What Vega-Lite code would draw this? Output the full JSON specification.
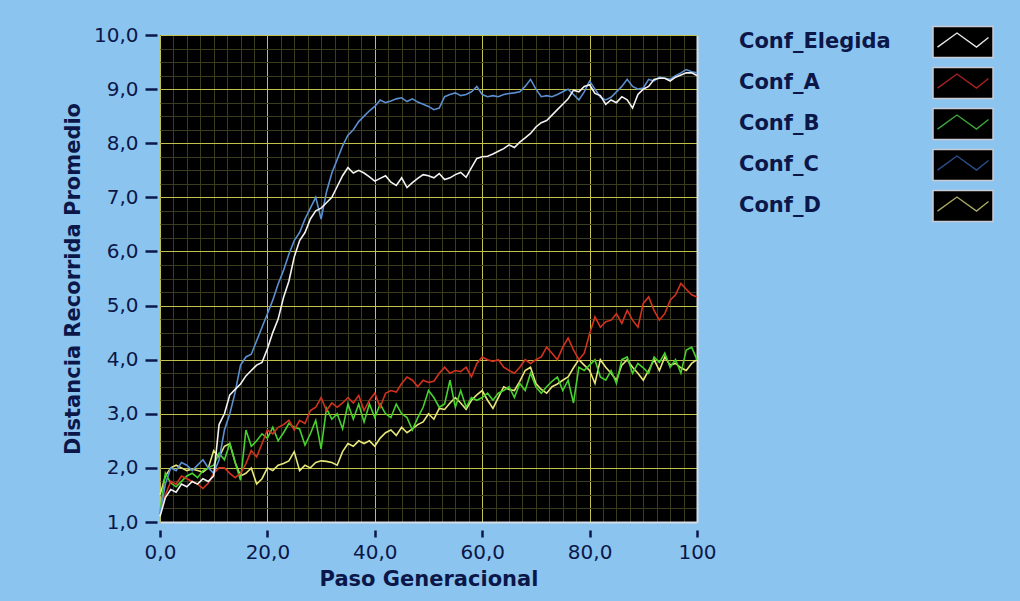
{
"$schema": "https://vega.github.io/schema/vega-lite/v6.json",
"background": "#8cc4f0",
"padding": {"left": 62, "top": 23, "right": 30, "bottom": 16},
"config": {"view": {"stroke": null}, "font": "DejaVu Sans", "concat": {"spacing": 22}},
"datasets": {
"series": [
{"paso":0,"serie":"Conf_D","valor":1.5},{"paso":1,"serie":"Conf_D","valor":1.85},{"paso":2,"serie":"Conf_D","valor":2.0},{"paso":3,"serie":"Conf_D","valor":2.05},{"paso":4,"serie":"Conf_D","valor":2.0},{"paso":5,"serie":"Conf_D","valor":1.95},{"paso":6,"serie":"Conf_D","valor":1.98},{"paso":7,"serie":"Conf_D","valor":1.95},{"paso":8,"serie":"Conf_D","valor":1.92},{"paso":9,"serie":"Conf_D","valor":2.0},
{"paso":10,"serie":"Conf_D","valor":2.32},{"paso":11,"serie":"Conf_D","valor":2.2},{"paso":12,"serie":"Conf_D","valor":2.4},{"paso":13,"serie":"Conf_D","valor":2.45},{"paso":14,"serie":"Conf_D","valor":2.1},{"paso":15,"serie":"Conf_D","valor":1.85},{"paso":16,"serie":"Conf_D","valor":1.9},{"paso":17,"serie":"Conf_D","valor":2.0},{"paso":18,"serie":"Conf_D","valor":1.7},{"paso":19,"serie":"Conf_D","valor":1.8},
{"paso":20,"serie":"Conf_D","valor":2.0},{"paso":21,"serie":"Conf_D","valor":1.95},{"paso":22,"serie":"Conf_D","valor":2.05},{"paso":23,"serie":"Conf_D","valor":2.08},{"paso":24,"serie":"Conf_D","valor":2.13},{"paso":25,"serie":"Conf_D","valor":2.3},{"paso":26,"serie":"Conf_D","valor":1.95},{"paso":27,"serie":"Conf_D","valor":2.05},{"paso":28,"serie":"Conf_D","valor":2.0},{"paso":29,"serie":"Conf_D","valor":2.1},
{"paso":30,"serie":"Conf_D","valor":2.13},{"paso":31,"serie":"Conf_D","valor":2.12},{"paso":32,"serie":"Conf_D","valor":2.1},{"paso":33,"serie":"Conf_D","valor":2.05},{"paso":34,"serie":"Conf_D","valor":2.3},{"paso":35,"serie":"Conf_D","valor":2.45},{"paso":36,"serie":"Conf_D","valor":2.4},{"paso":37,"serie":"Conf_D","valor":2.5},{"paso":38,"serie":"Conf_D","valor":2.45},{"paso":39,"serie":"Conf_D","valor":2.5},
{"paso":40,"serie":"Conf_D","valor":2.4},{"paso":41,"serie":"Conf_D","valor":2.55},{"paso":42,"serie":"Conf_D","valor":2.65},{"paso":43,"serie":"Conf_D","valor":2.7},{"paso":44,"serie":"Conf_D","valor":2.6},{"paso":45,"serie":"Conf_D","valor":2.75},{"paso":46,"serie":"Conf_D","valor":2.65},{"paso":47,"serie":"Conf_D","valor":2.72},{"paso":48,"serie":"Conf_D","valor":2.8},{"paso":49,"serie":"Conf_D","valor":2.85},
{"paso":50,"serie":"Conf_D","valor":3.0},{"paso":51,"serie":"Conf_D","valor":2.9},{"paso":52,"serie":"Conf_D","valor":3.1},{"paso":53,"serie":"Conf_D","valor":3.08},{"paso":54,"serie":"Conf_D","valor":3.2},{"paso":55,"serie":"Conf_D","valor":3.3},{"paso":56,"serie":"Conf_D","valor":3.2},{"paso":57,"serie":"Conf_D","valor":3.08},{"paso":58,"serie":"Conf_D","valor":3.25},{"paso":59,"serie":"Conf_D","valor":3.35},
{"paso":60,"serie":"Conf_D","valor":3.43},{"paso":61,"serie":"Conf_D","valor":3.25},{"paso":62,"serie":"Conf_D","valor":3.1},{"paso":63,"serie":"Conf_D","valor":3.3},{"paso":64,"serie":"Conf_D","valor":3.5},{"paso":65,"serie":"Conf_D","valor":3.45},{"paso":66,"serie":"Conf_D","valor":3.43},{"paso":67,"serie":"Conf_D","valor":3.6},{"paso":68,"serie":"Conf_D","valor":3.8},{"paso":69,"serie":"Conf_D","valor":3.86},
{"paso":70,"serie":"Conf_D","valor":3.56},{"paso":71,"serie":"Conf_D","valor":3.45},{"paso":72,"serie":"Conf_D","valor":3.38},{"paso":73,"serie":"Conf_D","valor":3.5},{"paso":74,"serie":"Conf_D","valor":3.55},{"paso":75,"serie":"Conf_D","valor":3.62},{"paso":76,"serie":"Conf_D","valor":3.68},{"paso":77,"serie":"Conf_D","valor":3.85},{"paso":78,"serie":"Conf_D","valor":4.0},{"paso":79,"serie":"Conf_D","valor":3.9},
{"paso":80,"serie":"Conf_D","valor":3.8},{"paso":81,"serie":"Conf_D","valor":3.56},{"paso":82,"serie":"Conf_D","valor":4.0},{"paso":83,"serie":"Conf_D","valor":3.86},{"paso":84,"serie":"Conf_D","valor":3.75},{"paso":85,"serie":"Conf_D","valor":3.62},{"paso":86,"serie":"Conf_D","valor":3.9},{"paso":87,"serie":"Conf_D","valor":4.0},{"paso":88,"serie":"Conf_D","valor":3.86},{"paso":89,"serie":"Conf_D","valor":3.75},
{"paso":90,"serie":"Conf_D","valor":3.62},{"paso":91,"serie":"Conf_D","valor":3.8},{"paso":92,"serie":"Conf_D","valor":4.0},{"paso":93,"serie":"Conf_D","valor":3.8},{"paso":94,"serie":"Conf_D","valor":4.05},{"paso":95,"serie":"Conf_D","valor":3.9},{"paso":96,"serie":"Conf_D","valor":3.93},{"paso":97,"serie":"Conf_D","valor":3.85},{"paso":98,"serie":"Conf_D","valor":3.8},{"paso":99,"serie":"Conf_D","valor":3.93},{"paso":100,"serie":"Conf_D","valor":4.0},
{"paso":0,"serie":"Conf_B","valor":1.2},{"paso":1,"serie":"Conf_B","valor":1.9},{"paso":2,"serie":"Conf_B","valor":1.72},{"paso":3,"serie":"Conf_B","valor":1.65},{"paso":4,"serie":"Conf_B","valor":1.75},{"paso":5,"serie":"Conf_B","valor":1.85},{"paso":6,"serie":"Conf_B","valor":1.9},{"paso":7,"serie":"Conf_B","valor":1.82},{"paso":8,"serie":"Conf_B","valor":1.95},{"paso":9,"serie":"Conf_B","valor":2.0},
{"paso":10,"serie":"Conf_B","valor":2.05},{"paso":11,"serie":"Conf_B","valor":2.27},{"paso":12,"serie":"Conf_B","valor":2.15},{"paso":13,"serie":"Conf_B","valor":2.45},{"paso":14,"serie":"Conf_B","valor":2.1},{"paso":15,"serie":"Conf_B","valor":1.77},{"paso":16,"serie":"Conf_B","valor":2.7},{"paso":17,"serie":"Conf_B","valor":2.4},{"paso":18,"serie":"Conf_B","valor":2.5},{"paso":19,"serie":"Conf_B","valor":2.63},
{"paso":20,"serie":"Conf_B","valor":2.55},{"paso":21,"serie":"Conf_B","valor":2.75},{"paso":22,"serie":"Conf_B","valor":2.5},{"paso":23,"serie":"Conf_B","valor":2.65},{"paso":24,"serie":"Conf_B","valor":2.82},{"paso":25,"serie":"Conf_B","valor":2.75},{"paso":26,"serie":"Conf_B","valor":2.72},{"paso":27,"serie":"Conf_B","valor":2.42},{"paso":28,"serie":"Conf_B","valor":2.63},{"paso":29,"serie":"Conf_B","valor":2.88},
{"paso":30,"serie":"Conf_B","valor":2.35},{"paso":31,"serie":"Conf_B","valor":3.1},{"paso":32,"serie":"Conf_B","valor":2.9},{"paso":33,"serie":"Conf_B","valor":3.0},{"paso":34,"serie":"Conf_B","valor":2.72},{"paso":35,"serie":"Conf_B","valor":3.18},{"paso":36,"serie":"Conf_B","valor":2.9},{"paso":37,"serie":"Conf_B","valor":3.18},{"paso":38,"serie":"Conf_B","valor":2.85},{"paso":39,"serie":"Conf_B","valor":3.18},
{"paso":40,"serie":"Conf_B","valor":2.93},{"paso":41,"serie":"Conf_B","valor":3.18},{"paso":42,"serie":"Conf_B","valor":3.0},{"paso":43,"serie":"Conf_B","valor":2.93},{"paso":44,"serie":"Conf_B","valor":3.18},{"paso":45,"serie":"Conf_B","valor":3.0},{"paso":46,"serie":"Conf_B","valor":2.93},{"paso":47,"serie":"Conf_B","valor":2.7},{"paso":48,"serie":"Conf_B","valor":2.93},{"paso":49,"serie":"Conf_B","valor":3.12},
{"paso":50,"serie":"Conf_B","valor":3.43},{"paso":51,"serie":"Conf_B","valor":3.3},{"paso":52,"serie":"Conf_B","valor":3.12},{"paso":53,"serie":"Conf_B","valor":3.18},{"paso":54,"serie":"Conf_B","valor":3.62},{"paso":55,"serie":"Conf_B","valor":3.12},{"paso":56,"serie":"Conf_B","valor":3.43},{"paso":57,"serie":"Conf_B","valor":3.12},{"paso":58,"serie":"Conf_B","valor":3.3},{"paso":59,"serie":"Conf_B","valor":3.25},
{"paso":60,"serie":"Conf_B","valor":3.3},{"paso":61,"serie":"Conf_B","valor":3.38},{"paso":62,"serie":"Conf_B","valor":3.25},{"paso":63,"serie":"Conf_B","valor":3.38},{"paso":64,"serie":"Conf_B","valor":3.43},{"paso":65,"serie":"Conf_B","valor":3.5},{"paso":66,"serie":"Conf_B","valor":3.3},{"paso":67,"serie":"Conf_B","valor":3.56},{"paso":68,"serie":"Conf_B","valor":3.43},{"paso":69,"serie":"Conf_B","valor":3.75},
{"paso":70,"serie":"Conf_B","valor":3.5},{"paso":71,"serie":"Conf_B","valor":3.38},{"paso":72,"serie":"Conf_B","valor":3.5},{"paso":73,"serie":"Conf_B","valor":3.6},{"paso":74,"serie":"Conf_B","valor":3.68},{"paso":75,"serie":"Conf_B","valor":3.43},{"paso":76,"serie":"Conf_B","valor":3.62},{"paso":77,"serie":"Conf_B","valor":3.2},{"paso":78,"serie":"Conf_B","valor":3.86},{"paso":79,"serie":"Conf_B","valor":3.8},
{"paso":80,"serie":"Conf_B","valor":3.9},{"paso":81,"serie":"Conf_B","valor":4.0},{"paso":82,"serie":"Conf_B","valor":3.68},{"paso":83,"serie":"Conf_B","valor":3.62},{"paso":84,"serie":"Conf_B","valor":3.8},{"paso":85,"serie":"Conf_B","valor":3.56},{"paso":86,"serie":"Conf_B","valor":4.0},{"paso":87,"serie":"Conf_B","valor":4.05},{"paso":88,"serie":"Conf_B","valor":3.75},{"paso":89,"serie":"Conf_B","valor":3.93},
{"paso":90,"serie":"Conf_B","valor":3.85},{"paso":91,"serie":"Conf_B","valor":3.75},{"paso":92,"serie":"Conf_B","valor":4.05},{"paso":93,"serie":"Conf_B","valor":3.95},{"paso":94,"serie":"Conf_B","valor":4.12},{"paso":95,"serie":"Conf_B","valor":3.86},{"paso":96,"serie":"Conf_B","valor":4.0},{"paso":97,"serie":"Conf_B","valor":3.75},{"paso":98,"serie":"Conf_B","valor":4.18},{"paso":99,"serie":"Conf_B","valor":4.23},{"paso":100,"serie":"Conf_B","valor":4.0},
{"paso":0,"serie":"Conf_A","valor":1.15},{"paso":1,"serie":"Conf_A","valor":1.5},{"paso":2,"serie":"Conf_A","valor":1.75},{"paso":3,"serie":"Conf_A","valor":1.7},{"paso":4,"serie":"Conf_A","valor":1.85},{"paso":5,"serie":"Conf_A","valor":1.8},{"paso":6,"serie":"Conf_A","valor":1.75},{"paso":7,"serie":"Conf_A","valor":1.7},{"paso":8,"serie":"Conf_A","valor":1.62},{"paso":9,"serie":"Conf_A","valor":1.72},
{"paso":10,"serie":"Conf_A","valor":1.9},{"paso":11,"serie":"Conf_A","valor":2.0},{"paso":12,"serie":"Conf_A","valor":2.0},{"paso":13,"serie":"Conf_A","valor":1.9},{"paso":14,"serie":"Conf_A","valor":1.82},{"paso":15,"serie":"Conf_A","valor":1.9},{"paso":16,"serie":"Conf_A","valor":2.08},{"paso":17,"serie":"Conf_A","valor":2.32},{"paso":18,"serie":"Conf_A","valor":2.2},{"paso":19,"serie":"Conf_A","valor":2.45},
{"paso":20,"serie":"Conf_A","valor":2.7},{"paso":21,"serie":"Conf_A","valor":2.63},{"paso":22,"serie":"Conf_A","valor":2.75},{"paso":23,"serie":"Conf_A","valor":2.8},{"paso":24,"serie":"Conf_A","valor":2.88},{"paso":25,"serie":"Conf_A","valor":2.7},{"paso":26,"serie":"Conf_A","valor":2.88},{"paso":27,"serie":"Conf_A","valor":2.82},{"paso":28,"serie":"Conf_A","valor":3.06},{"paso":29,"serie":"Conf_A","valor":3.12},
{"paso":30,"serie":"Conf_A","valor":3.3},{"paso":31,"serie":"Conf_A","valor":3.06},{"paso":32,"serie":"Conf_A","valor":3.2},{"paso":33,"serie":"Conf_A","valor":3.12},{"paso":34,"serie":"Conf_A","valor":3.2},{"paso":35,"serie":"Conf_A","valor":3.3},{"paso":36,"serie":"Conf_A","valor":3.2},{"paso":37,"serie":"Conf_A","valor":3.34},{"paso":38,"serie":"Conf_A","valor":3.06},{"paso":39,"serie":"Conf_A","valor":3.25},
{"paso":40,"serie":"Conf_A","valor":3.38},{"paso":41,"serie":"Conf_A","valor":3.12},{"paso":42,"serie":"Conf_A","valor":3.38},{"paso":43,"serie":"Conf_A","valor":3.43},{"paso":44,"serie":"Conf_A","valor":3.4},{"paso":45,"serie":"Conf_A","valor":3.56},{"paso":46,"serie":"Conf_A","valor":3.68},{"paso":47,"serie":"Conf_A","valor":3.62},{"paso":48,"serie":"Conf_A","valor":3.5},{"paso":49,"serie":"Conf_A","valor":3.62},
{"paso":50,"serie":"Conf_A","valor":3.58},{"paso":51,"serie":"Conf_A","valor":3.6},{"paso":52,"serie":"Conf_A","valor":3.75},{"paso":53,"serie":"Conf_A","valor":3.86},{"paso":54,"serie":"Conf_A","valor":3.75},{"paso":55,"serie":"Conf_A","valor":3.8},{"paso":56,"serie":"Conf_A","valor":3.78},{"paso":57,"serie":"Conf_A","valor":3.86},{"paso":58,"serie":"Conf_A","valor":3.68},{"paso":59,"serie":"Conf_A","valor":3.93},
{"paso":60,"serie":"Conf_A","valor":4.05},{"paso":61,"serie":"Conf_A","valor":4.0},{"paso":62,"serie":"Conf_A","valor":3.97},{"paso":63,"serie":"Conf_A","valor":4.0},{"paso":64,"serie":"Conf_A","valor":3.86},{"paso":65,"serie":"Conf_A","valor":3.8},{"paso":66,"serie":"Conf_A","valor":3.75},{"paso":67,"serie":"Conf_A","valor":3.86},{"paso":68,"serie":"Conf_A","valor":4.0},{"paso":69,"serie":"Conf_A","valor":3.93},
{"paso":70,"serie":"Conf_A","valor":4.0},{"paso":71,"serie":"Conf_A","valor":4.05},{"paso":72,"serie":"Conf_A","valor":4.23},{"paso":73,"serie":"Conf_A","valor":4.12},{"paso":74,"serie":"Conf_A","valor":4.0},{"paso":75,"serie":"Conf_A","valor":4.23},{"paso":76,"serie":"Conf_A","valor":4.4},{"paso":77,"serie":"Conf_A","valor":4.18},{"paso":78,"serie":"Conf_A","valor":4.0},{"paso":79,"serie":"Conf_A","valor":4.12},
{"paso":80,"serie":"Conf_A","valor":4.48},{"paso":81,"serie":"Conf_A","valor":4.79},{"paso":82,"serie":"Conf_A","valor":4.6},{"paso":83,"serie":"Conf_A","valor":4.7},{"paso":84,"serie":"Conf_A","valor":4.73},{"paso":85,"serie":"Conf_A","valor":4.85},{"paso":86,"serie":"Conf_A","valor":4.67},{"paso":87,"serie":"Conf_A","valor":4.91},{"paso":88,"serie":"Conf_A","valor":4.73},{"paso":89,"serie":"Conf_A","valor":4.6},
{"paso":90,"serie":"Conf_A","valor":5.04},{"paso":91,"serie":"Conf_A","valor":5.16},{"paso":92,"serie":"Conf_A","valor":4.91},{"paso":93,"serie":"Conf_A","valor":4.73},{"paso":94,"serie":"Conf_A","valor":4.85},{"paso":95,"serie":"Conf_A","valor":5.1},{"paso":96,"serie":"Conf_A","valor":5.2},{"paso":97,"serie":"Conf_A","valor":5.41},{"paso":98,"serie":"Conf_A","valor":5.3},{"paso":99,"serie":"Conf_A","valor":5.2},{"paso":100,"serie":"Conf_A","valor":5.16},
{"paso":0,"serie":"Conf_C","valor":1.15},{"paso":1,"serie":"Conf_C","valor":1.7},{"paso":2,"serie":"Conf_C","valor":2.0},{"paso":3,"serie":"Conf_C","valor":1.95},{"paso":4,"serie":"Conf_C","valor":2.1},{"paso":5,"serie":"Conf_C","valor":2.05},{"paso":6,"serie":"Conf_C","valor":1.95},{"paso":7,"serie":"Conf_C","valor":2.05},{"paso":8,"serie":"Conf_C","valor":2.15},{"paso":9,"serie":"Conf_C","valor":2.0},
{"paso":10,"serie":"Conf_C","valor":1.9},{"paso":11,"serie":"Conf_C","valor":2.15},{"paso":12,"serie":"Conf_C","valor":2.7},{"paso":13,"serie":"Conf_C","valor":3.0},{"paso":14,"serie":"Conf_C","valor":3.4},{"paso":15,"serie":"Conf_C","valor":3.9},{"paso":16,"serie":"Conf_C","valor":4.05},{"paso":17,"serie":"Conf_C","valor":4.1},{"paso":18,"serie":"Conf_C","valor":4.35},{"paso":19,"serie":"Conf_C","valor":4.6},
{"paso":20,"serie":"Conf_C","valor":4.85},{"paso":21,"serie":"Conf_C","valor":5.1},{"paso":22,"serie":"Conf_C","valor":5.4},{"paso":23,"serie":"Conf_C","valor":5.65},{"paso":24,"serie":"Conf_C","valor":5.95},{"paso":25,"serie":"Conf_C","valor":6.2},{"paso":26,"serie":"Conf_C","valor":6.35},{"paso":27,"serie":"Conf_C","valor":6.6},{"paso":28,"serie":"Conf_C","valor":6.8},{"paso":29,"serie":"Conf_C","valor":7.0},
{"paso":30,"serie":"Conf_C","valor":6.6},{"paso":31,"serie":"Conf_C","valor":7.1},{"paso":32,"serie":"Conf_C","valor":7.45},{"paso":33,"serie":"Conf_C","valor":7.7},{"paso":34,"serie":"Conf_C","valor":7.95},{"paso":35,"serie":"Conf_C","valor":8.15},{"paso":36,"serie":"Conf_C","valor":8.25},{"paso":37,"serie":"Conf_C","valor":8.4},{"paso":38,"serie":"Conf_C","valor":8.5},{"paso":39,"serie":"Conf_C","valor":8.6},
{"paso":40,"serie":"Conf_C","valor":8.68},{"paso":41,"serie":"Conf_C","valor":8.8},{"paso":42,"serie":"Conf_C","valor":8.75},{"paso":43,"serie":"Conf_C","valor":8.78},{"paso":44,"serie":"Conf_C","valor":8.82},{"paso":45,"serie":"Conf_C","valor":8.84},{"paso":46,"serie":"Conf_C","valor":8.77},{"paso":47,"serie":"Conf_C","valor":8.82},{"paso":48,"serie":"Conf_C","valor":8.76},{"paso":49,"serie":"Conf_C","valor":8.72},
{"paso":50,"serie":"Conf_C","valor":8.68},{"paso":51,"serie":"Conf_C","valor":8.62},{"paso":52,"serie":"Conf_C","valor":8.65},{"paso":53,"serie":"Conf_C","valor":8.86},{"paso":54,"serie":"Conf_C","valor":8.9},{"paso":55,"serie":"Conf_C","valor":8.93},{"paso":56,"serie":"Conf_C","valor":8.88},{"paso":57,"serie":"Conf_C","valor":8.9},{"paso":58,"serie":"Conf_C","valor":8.95},{"paso":59,"serie":"Conf_C","valor":9.05},
{"paso":60,"serie":"Conf_C","valor":8.9},{"paso":61,"serie":"Conf_C","valor":8.86},{"paso":62,"serie":"Conf_C","valor":8.88},{"paso":63,"serie":"Conf_C","valor":8.86},{"paso":64,"serie":"Conf_C","valor":8.9},{"paso":65,"serie":"Conf_C","valor":8.92},{"paso":66,"serie":"Conf_C","valor":8.93},{"paso":67,"serie":"Conf_C","valor":8.95},{"paso":68,"serie":"Conf_C","valor":9.05},{"paso":69,"serie":"Conf_C","valor":9.18},
{"paso":70,"serie":"Conf_C","valor":9.0},{"paso":71,"serie":"Conf_C","valor":8.86},{"paso":72,"serie":"Conf_C","valor":8.88},{"paso":73,"serie":"Conf_C","valor":8.86},{"paso":74,"serie":"Conf_C","valor":8.9},{"paso":75,"serie":"Conf_C","valor":8.95},{"paso":76,"serie":"Conf_C","valor":9.0},{"paso":77,"serie":"Conf_C","valor":8.9},{"paso":78,"serie":"Conf_C","valor":8.8},{"paso":79,"serie":"Conf_C","valor":8.95},
{"paso":80,"serie":"Conf_C","valor":9.15},{"paso":81,"serie":"Conf_C","valor":9.0},{"paso":82,"serie":"Conf_C","valor":8.85},{"paso":83,"serie":"Conf_C","valor":8.8},{"paso":84,"serie":"Conf_C","valor":8.85},{"paso":85,"serie":"Conf_C","valor":8.95},{"paso":86,"serie":"Conf_C","valor":9.05},{"paso":87,"serie":"Conf_C","valor":9.18},{"paso":88,"serie":"Conf_C","valor":9.05},{"paso":89,"serie":"Conf_C","valor":9.0},
{"paso":90,"serie":"Conf_C","valor":9.02},{"paso":91,"serie":"Conf_C","valor":9.18},{"paso":92,"serie":"Conf_C","valor":9.15},{"paso":93,"serie":"Conf_C","valor":9.22},{"paso":94,"serie":"Conf_C","valor":9.2},{"paso":95,"serie":"Conf_C","valor":9.18},{"paso":96,"serie":"Conf_C","valor":9.25},{"paso":97,"serie":"Conf_C","valor":9.3},{"paso":98,"serie":"Conf_C","valor":9.36},{"paso":99,"serie":"Conf_C","valor":9.32},{"paso":100,"serie":"Conf_C","valor":9.3},
{"paso":0,"serie":"Conf_Elegida","valor":1.1},{"paso":1,"serie":"Conf_Elegida","valor":1.45},{"paso":2,"serie":"Conf_Elegida","valor":1.6},{"paso":3,"serie":"Conf_Elegida","valor":1.55},{"paso":4,"serie":"Conf_Elegida","valor":1.7},{"paso":5,"serie":"Conf_Elegida","valor":1.65},{"paso":6,"serie":"Conf_Elegida","valor":1.75},{"paso":7,"serie":"Conf_Elegida","valor":1.7},{"paso":8,"serie":"Conf_Elegida","valor":1.8},{"paso":9,"serie":"Conf_Elegida","valor":1.75},
{"paso":10,"serie":"Conf_Elegida","valor":1.85},{"paso":11,"serie":"Conf_Elegida","valor":2.8},{"paso":12,"serie":"Conf_Elegida","valor":3.0},{"paso":13,"serie":"Conf_Elegida","valor":3.35},{"paso":14,"serie":"Conf_Elegida","valor":3.45},{"paso":15,"serie":"Conf_Elegida","valor":3.55},{"paso":16,"serie":"Conf_Elegida","valor":3.7},{"paso":17,"serie":"Conf_Elegida","valor":3.8},{"paso":18,"serie":"Conf_Elegida","valor":3.9},{"paso":19,"serie":"Conf_Elegida","valor":3.95},
{"paso":20,"serie":"Conf_Elegida","valor":4.2},{"paso":21,"serie":"Conf_Elegida","valor":4.5},{"paso":22,"serie":"Conf_Elegida","valor":4.75},{"paso":23,"serie":"Conf_Elegida","valor":5.15},{"paso":24,"serie":"Conf_Elegida","valor":5.45},{"paso":25,"serie":"Conf_Elegida","valor":5.9},{"paso":26,"serie":"Conf_Elegida","valor":6.2},{"paso":27,"serie":"Conf_Elegida","valor":6.35},{"paso":28,"serie":"Conf_Elegida","valor":6.6},{"paso":29,"serie":"Conf_Elegida","valor":6.75},
{"paso":30,"serie":"Conf_Elegida","valor":6.8},{"paso":31,"serie":"Conf_Elegida","valor":6.9},{"paso":32,"serie":"Conf_Elegida","valor":7.0},{"paso":33,"serie":"Conf_Elegida","valor":7.2},{"paso":34,"serie":"Conf_Elegida","valor":7.4},{"paso":35,"serie":"Conf_Elegida","valor":7.55},{"paso":36,"serie":"Conf_Elegida","valor":7.45},{"paso":37,"serie":"Conf_Elegida","valor":7.5},{"paso":38,"serie":"Conf_Elegida","valor":7.45},{"paso":39,"serie":"Conf_Elegida","valor":7.38},
{"paso":40,"serie":"Conf_Elegida","valor":7.3},{"paso":41,"serie":"Conf_Elegida","valor":7.35},{"paso":42,"serie":"Conf_Elegida","valor":7.4},{"paso":43,"serie":"Conf_Elegida","valor":7.28},{"paso":44,"serie":"Conf_Elegida","valor":7.22},{"paso":45,"serie":"Conf_Elegida","valor":7.36},{"paso":46,"serie":"Conf_Elegida","valor":7.18},{"paso":47,"serie":"Conf_Elegida","valor":7.27},{"paso":48,"serie":"Conf_Elegida","valor":7.35},{"paso":49,"serie":"Conf_Elegida","valor":7.42},
{"paso":50,"serie":"Conf_Elegida","valor":7.4},{"paso":51,"serie":"Conf_Elegida","valor":7.36},{"paso":52,"serie":"Conf_Elegida","valor":7.44},{"paso":53,"serie":"Conf_Elegida","valor":7.33},{"paso":54,"serie":"Conf_Elegida","valor":7.36},{"paso":55,"serie":"Conf_Elegida","valor":7.42},{"paso":56,"serie":"Conf_Elegida","valor":7.46},{"paso":57,"serie":"Conf_Elegida","valor":7.37},{"paso":58,"serie":"Conf_Elegida","valor":7.55},{"paso":59,"serie":"Conf_Elegida","valor":7.72},
{"paso":60,"serie":"Conf_Elegida","valor":7.75},{"paso":61,"serie":"Conf_Elegida","valor":7.76},{"paso":62,"serie":"Conf_Elegida","valor":7.8},{"paso":63,"serie":"Conf_Elegida","valor":7.85},{"paso":64,"serie":"Conf_Elegida","valor":7.9},{"paso":65,"serie":"Conf_Elegida","valor":7.97},{"paso":66,"serie":"Conf_Elegida","valor":7.92},{"paso":67,"serie":"Conf_Elegida","valor":8.02},{"paso":68,"serie":"Conf_Elegida","valor":8.1},{"paso":69,"serie":"Conf_Elegida","valor":8.18},
{"paso":70,"serie":"Conf_Elegida","valor":8.3},{"paso":71,"serie":"Conf_Elegida","valor":8.38},{"paso":72,"serie":"Conf_Elegida","valor":8.42},{"paso":73,"serie":"Conf_Elegida","valor":8.52},{"paso":74,"serie":"Conf_Elegida","valor":8.62},{"paso":75,"serie":"Conf_Elegida","valor":8.72},{"paso":76,"serie":"Conf_Elegida","valor":8.82},{"paso":77,"serie":"Conf_Elegida","valor":8.98},{"paso":78,"serie":"Conf_Elegida","valor":8.95},{"paso":79,"serie":"Conf_Elegida","valor":9.05},
{"paso":80,"serie":"Conf_Elegida","valor":9.08},{"paso":81,"serie":"Conf_Elegida","valor":8.92},{"paso":82,"serie":"Conf_Elegida","valor":8.88},{"paso":83,"serie":"Conf_Elegida","valor":8.72},{"paso":84,"serie":"Conf_Elegida","valor":8.8},{"paso":85,"serie":"Conf_Elegida","valor":8.75},{"paso":86,"serie":"Conf_Elegida","valor":8.86},{"paso":87,"serie":"Conf_Elegida","valor":8.8},{"paso":88,"serie":"Conf_Elegida","valor":8.65},{"paso":89,"serie":"Conf_Elegida","valor":8.9},
{"paso":90,"serie":"Conf_Elegida","valor":9.0},{"paso":91,"serie":"Conf_Elegida","valor":9.05},{"paso":92,"serie":"Conf_Elegida","valor":9.18},{"paso":93,"serie":"Conf_Elegida","valor":9.2},{"paso":94,"serie":"Conf_Elegida","valor":9.2},{"paso":95,"serie":"Conf_Elegida","valor":9.15},{"paso":96,"serie":"Conf_Elegida","valor":9.22},{"paso":97,"serie":"Conf_Elegida","valor":9.26},{"paso":98,"serie":"Conf_Elegida","valor":9.3},{"paso":99,"serie":"Conf_Elegida","valor":9.3},{"paso":100,"serie":"Conf_Elegida","valor":9.25}
],
"leyenda": [{"serie":"Conf_Elegida"},{"serie":"Conf_A"},{"serie":"Conf_B"},{"serie":"Conf_C"},{"serie":"Conf_D"}]
},
"resolve": {"scale": {"color": "independent"}},
"hconcat": [
{
"width": 537, "height": 487,
"view": {"fill": "#000000", "stroke": null},
"data": {"name": "series"},
"resolve": {"axis": {"x": "independent", "y": "independent"}},
"layer": [
{
"transform": [{"filter": {"field": "serie", "oneOf": ["Conf_D", "Conf_B", "Conf_A"]}}],
"mark": {"type": "line", "strokeWidth": 1.6},
"encoding": {
"x": {"field": "paso", "type": "quantitative", "scale": {"domain": [0, 100], "nice": false, "zero": false},
"axis": {"orient": "bottom", "title": null, "labels": false, "ticks": false, "domain": true, "domainColor": "#d6dde6", "domainWidth": 2, "grid": true, "gridColor": "#3b3b1e", "gridWidth": 1,
"values": [0,2.5,5,7.5,10,12.5,15,17.5,20,22.5,25,27.5,30,32.5,35,37.5,40,42.5,45,47.5,50,52.5,55,57.5,60,62.5,65,67.5,70,72.5,75,77.5,80,82.5,85,87.5,90,92.5,95,97.5,100]}},
"y": {"field": "valor", "type": "quantitative", "scale": {"domain": [1, 10], "nice": false, "zero": false},
"axis": {"orient": "right", "title": null, "labels": false, "ticks": false, "domain": true, "domainColor": "#d6dde6", "domainWidth": 2, "grid": true, "gridColor": "#3b3b1e", "gridWidth": 1,
"values": [1,1.25,1.5,1.75,2,2.25,2.5,2.75,3,3.25,3.5,3.75,4,4.25,4.5,4.75,5,5.25,5.5,5.75,6,6.25,6.5,6.75,7,7.25,7.5,7.75,8,8.25,8.5,8.75,9,9.25,9.5,9.75,10]}},
"color": {"field": "serie", "type": "nominal", "scale": {"domain": ["Conf_Elegida", "Conf_A", "Conf_B", "Conf_C", "Conf_D"], "range": ["#f2f2f2", "#d2321e", "#46d22d", "#5b8fd0", "#e6e67a"]}, "legend": null}
}
},
{
"transform": [{"filter": {"field": "serie", "oneOf": ["Conf_C", "Conf_Elegida"]}}],
"mark": {"type": "line", "strokeWidth": 1.6},
"encoding": {
"x": {"field": "paso", "type": "quantitative",
"axis": {"orient": "bottom", "title": "Paso Generacional", "values": [0, 20, 40, 60, 80, 100], "offset": 8, "tickSize": 7, "tickWidth": 2.5, "tickColor": "#0b1748", "domain": false, "grid": true, "gridColor": "#c2c24c", "gridWidth": 1, "labelFlush": false, "labelOverlap": false,
"labelExpr": "datum.value == 100 ? '100' : replace(format(datum.value, '.1f'), '.', ',')",
"labelFont": "DejaVu Sans", "labelFontSize": 20, "labelColor": "#0b1748", "labelPadding": 5,
"titleFont": "DejaVu Sans", "titleFontSize": 21, "titleFontWeight": "bold", "titleColor": "#0b1748", "titlePadding": 6}},
"y": {"field": "valor", "type": "quantitative",
"axis": {"orient": "left", "title": "Distancia Recorrida Promedio", "values": [1,2,3,4,5,6,7,8,9,10], "offset": 3, "tickSize": 12, "tickWidth": 2.5, "tickColor": "#0b1748", "domain": false, "grid": true, "gridColor": "#c2c24c", "gridWidth": 1, "labelFlush": false, "labelOverlap": false,
"labelExpr": "replace(format(datum.value, '.1f'), '.', ',')",
"labelFont": "DejaVu Sans", "labelFontSize": 20, "labelColor": "#0b1748", "labelPadding": 7,
"titleFont": "DejaVu Sans", "titleFontSize": 21, "titleFontWeight": "bold", "titleColor": "#0b1748", "titlePadding": 10}},
"color": {"field": "serie", "type": "nominal", "legend": null}
}
}
]
},
{
"width": 224, "height": 178,
"data": {"name": "leyenda"},
"layer": [
{
"mark": {"type": "text", "align": "left", "baseline": "middle", "font": "DejaVu Sans", "fontWeight": "bold", "fontSize": 21, "color": "#0b1748"},
"encoding": {
"x": {"datum": 0, "type": "quantitative", "scale": {"domain": [0, 1]}, "axis": null},
"y": {"field": "serie", "type": "nominal", "scale": {"type": "point", "padding": 0.1707, "domain": ["Conf_Elegida", "Conf_A", "Conf_B", "Conf_C", "Conf_D"]}, "axis": null},
"text": {"field": "serie"}
}
},
{
"mark": {"type": "point", "shape": "M-1,-0.52H1V0.52H-1Z", "filled": true, "size": 3600, "fill": "#000000", "stroke": "#c9ccd2", "strokeWidth": 1.5, "opacity": 1},
"encoding": {
"x": {"datum": 1, "type": "quantitative"},
"y": {"field": "serie", "type": "nominal"}
}
},
{
"mark": {"type": "point", "shape": "M-0.85,0.17L-0.2,-0.3L0.45,0.17L0.85,-0.15", "filled": false, "size": 3600, "strokeWidth": 1.4, "opacity": 1},
"encoding": {
"x": {"datum": 1, "type": "quantitative"},
"y": {"field": "serie", "type": "nominal"},
"color": {"field": "serie", "type": "nominal", "scale": {"domain": ["Conf_Elegida", "Conf_A", "Conf_B", "Conf_C", "Conf_D"], "range": ["#e6e6e6", "#a82222", "#3aa83a", "#2c4e8e", "#a8a862"]}, "legend": null}
}
}
]
}
]
}
